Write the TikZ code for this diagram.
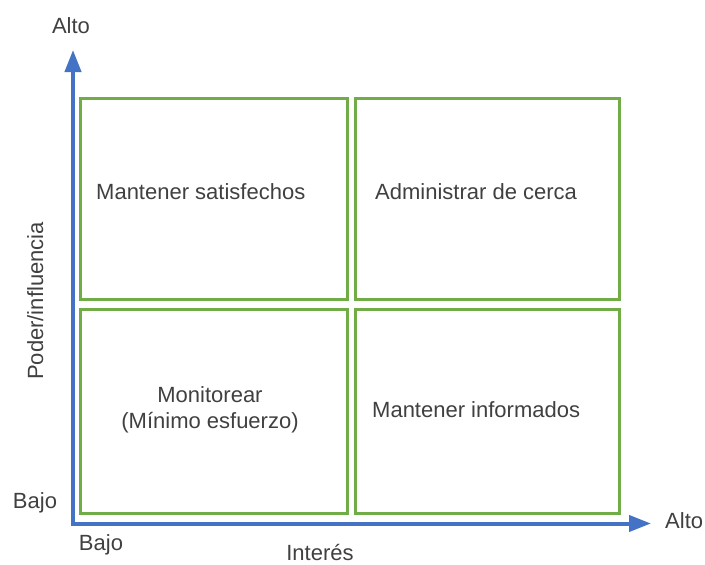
\documentclass[tikz,border=0pt]{standalone}
\usepackage{fontspec}
\setmainfont{Liberation Sans}
\usetikzlibrary{arrows.meta}
\definecolor{axisblue}{HTML}{4472C4}
\definecolor{boxgreen}{HTML}{70AD47}
\definecolor{txtgray}{HTML}{404040}
\begin{document}
\begin{tikzpicture}[x=1pt,y=-1pt,
  axis/.style={draw=axisblue,line width=4pt,-{Triangle[length=22pt,width=16pt]}},
  quad/.style={draw=boxgreen,line width=3pt},
  lbl/.style={text=txtgray,font=\fontsize{22}{26}\selectfont,inner sep=0pt}]
\useasboundingbox (0,0) rectangle (705,565);
\coordinate (O) at (71,523.5);
\coordinate (ytip) at (73,50);
\coordinate (xtip) at (651,523.5);
\draw[quad] (80.5,98.5) rectangle (347,299);
\draw[quad] (355,98.5) rectangle (619.5,299);
\draw[quad] (80.5,309) rectangle (347,513.5);
\draw[quad] (355,309) rectangle (619.5,513.5);
\draw[axis] (O -| ytip) -- (ytip);
\draw[axis] (O) -- (xtip);
\node[lbl,anchor=base west] (ms) at (96,199) {Mantener satisfechos};
\node[lbl,anchor=base west] (ac) at (375,199) {Administrar de cerca};
\node[lbl,anchor=base west] (mi) at (372,417) {Mantener informados};
\node[lbl,anchor=base] (mo) at (210,402) {Monitorear};
\node[lbl,anchor=base] (me) at (210,428) {(Mínimo esfuerzo)};
\node[lbl,anchor=base] (ya) at (71,33) {Alto};
\node[lbl,anchor=base west] (xa) at (665,528) {Alto};
\node[lbl,anchor=base] (yb) at (35,508) {Bajo};
\node[lbl,anchor=base] (xb) at (101,550) {Bajo};
\node[lbl,anchor=base] (xl) at (320,560) {Interés};
\node[lbl,anchor=base,rotate=90] (yl) at (43,301) {Poder/influencia};
\end{tikzpicture}
\end{document}
